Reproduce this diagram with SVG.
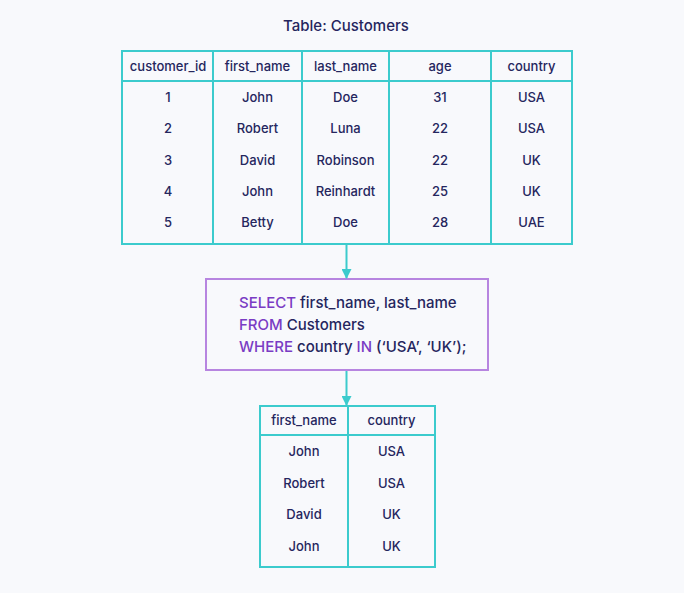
<svg xmlns="http://www.w3.org/2000/svg" width="684" height="593" viewBox="0 0 684 593">
<defs>
<style>
.bg{fill:#F8F9FC}
.tbl{fill:none;stroke:#3CCBCD;stroke-width:2}
.t{font-family:Inter,"Noto Sans","Liberation Sans",sans-serif;font-size:13px;fill:#25265E;text-anchor:middle;font-weight:500}
.title{font-family:Inter,"Noto Sans","Liberation Sans",sans-serif;font-size:15px;fill:#25265E;text-anchor:middle;font-weight:500}
.sql{font-family:Inter,"Noto Sans","Liberation Sans",sans-serif;font-size:15px;fill:#25265E;font-weight:500}
.kw{fill:#7A3CC4}
.conn{stroke:#3CCBCD;stroke-width:2;fill:none}
</style>
<marker id="ah" markerWidth="10" markerHeight="10" refX="9" refY="5" orient="auto" markerUnits="userSpaceOnUse">
<path d="M0,0 L10,5 L0,10 z" fill="#3CCBCD"/>
</marker>
</defs>
<rect class="bg" x="0" y="0" width="684" height="593"/>
<text class="title" x="346" y="31">Table: Customers</text>

<g id="customers-table">
<rect class="tbl" x="122" y="51" width="450" height="193" fill="#F8F9FC"/>
<line class="tbl" x1="122" y1="81" x2="572" y2="81"/>
<line class="tbl" x1="213" y1="51" x2="213" y2="244"/>
<line class="tbl" x1="302" y1="51" x2="302" y2="244"/>
<line class="tbl" x1="389" y1="51" x2="389" y2="244"/>
<line class="tbl" x1="491" y1="51" x2="491" y2="244"/>
<text class="t" x="168" y="71">customer_id</text>
<text class="t" x="257.5" y="71">first_name</text>
<text class="t" x="345.5" y="71">last_name</text>
<text class="t" x="440" y="71">age</text>
<text class="t" x="531.5" y="71">country</text>
<g>
<text class="t" x="168" y="102">1</text><text class="t" x="257.5" y="102">John</text><text class="t" x="345.5" y="102">Doe</text><text class="t" x="440" y="102">31</text><text class="t" x="531.5" y="102">USA</text>
<text class="t" x="168" y="133">2</text><text class="t" x="257.5" y="133">Robert</text><text class="t" x="345.5" y="133">Luna</text><text class="t" x="440" y="133">22</text><text class="t" x="531.5" y="133">USA</text>
<text class="t" x="168" y="165">3</text><text class="t" x="257.5" y="165">David</text><text class="t" x="345.5" y="165">Robinson</text><text class="t" x="440" y="165">22</text><text class="t" x="531.5" y="165">UK</text>
<text class="t" x="168" y="196">4</text><text class="t" x="257.5" y="196">John</text><text class="t" x="345.5" y="196">Reinhardt</text><text class="t" x="440" y="196">25</text><text class="t" x="531.5" y="196">UK</text>
<text class="t" x="168" y="227">5</text><text class="t" x="257.5" y="227">Betty</text><text class="t" x="345.5" y="227">Doe</text><text class="t" x="440" y="227">28</text><text class="t" x="531.5" y="227">UAE</text>
</g>
</g>

<g id="query">
<rect x="206" y="279" width="282" height="91" fill="#F8F9FC" stroke="#B785E0" stroke-width="2"/>
<text class="sql" x="239" y="308"><tspan class="kw">SELECT</tspan> first_name, last_name</text>
<text class="sql" x="239" y="330"><tspan class="kw">FROM</tspan> Customers</text>
<text class="sql" x="239" y="352"><tspan class="kw">WHERE</tspan> country <tspan class="kw">IN</tspan> (‘USA’, ‘UK’);</text>
</g>

<g id="result-table">
<rect class="tbl" x="260" y="406" width="175" height="161" fill="#F8F9FC"/>
<line class="tbl" x1="260" y1="435" x2="435" y2="435"/>
<line class="tbl" x1="348" y1="406" x2="348" y2="567"/>
<text class="t" x="304" y="425">first_name</text>
<text class="t" x="391.5" y="425">country</text>
<text class="t" x="304" y="456">John</text><text class="t" x="391.5" y="456">USA</text>
<text class="t" x="304" y="488">Robert</text><text class="t" x="391.5" y="488">USA</text>
<text class="t" x="304" y="519">David</text><text class="t" x="391.5" y="519">UK</text>
<text class="t" x="304" y="551">John</text><text class="t" x="391.5" y="551">UK</text>
</g>

<g id="connectors">
<line class="conn" x1="346.5" y1="245" x2="346.5" y2="278" marker-end="url(#ah)"/>
<line class="conn" x1="346.5" y1="371" x2="346.5" y2="405" marker-end="url(#ah)"/>
</g>
</svg>
